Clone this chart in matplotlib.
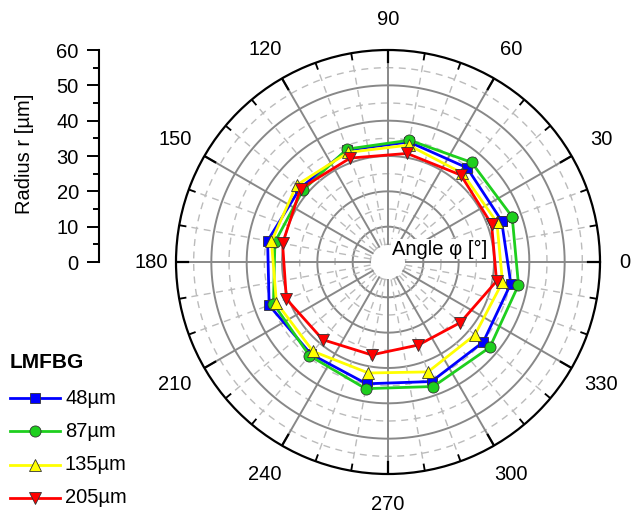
import numpy as np
import matplotlib.pyplot as plt
from matplotlib.lines import Line2D

plt.rcParams['font.family'] = ['Liberation Sans', 'DejaVu Sans']

angles_deg = [20, 50, 80, 110, 140, 170, 200, 230, 260, 290, 320, 350]
r_48 = [34.2, 34.8, 34.5, 33.7, 32.5, 34.6, 35.8, 34.0, 35.0, 36.0, 35.2, 35.3]
r_87 = [37.4, 36.8, 35.0, 34.0, 31.5, 32.5, 34.5, 34.6, 36.4, 37.5, 37.6, 37.5]
r_135 = [32.8, 32.8, 33.6, 33.0, 33.8, 33.5, 33.6, 33.0, 31.9, 33.1, 32.1, 32.9]
r_205 = [31.2, 32.1, 31.2, 31.3, 32.3, 30.3, 30.6, 28.7, 26.7, 25.0, 26.7, 31.2]
series_labels = ['48µm', '87µm', '135µm', '205µm']
angle_ticks = list(range(0, 360, 30))
radius_ticks = [0, 10, 20, 30, 40, 50, 60]

colors = ['#0000ff', '#1ecf1e', '#ffff00', '#ff0000']
markers = ['s', 'o', '^', 'v']
msizes = [7.5, 8, 9, 9]
FS = 14.5

W, H = 638, 514
fig = plt.figure(figsize=(W / 100, H / 100), dpi=100)

# polar panel
cx, cy, R = 388, 262, 212
ax = fig.add_axes([(cx - R) / W, 1 - (cy + R) / H, 2 * R / W, 2 * R / H],
                  projection='polar')
ax.set_ylim(0, 60)
ax.grid(False)
ax.set_xticks([])
ax.set_yticks([])
ax.spines['polar'].set_linewidth(1.6)
ax.spines['polar'].set_color('black')

th = np.linspace(0, 2 * np.pi, 400)
for rr in range(10, 60, 10):
    ax.plot(th, np.full_like(th, rr), color='#888888', lw=1.4, zorder=1)
for rr in range(5, 60, 10):
    ax.plot(th, np.full_like(th, rr), color='#bbbbbb', lw=1.0,
            ls=(0, (5, 4)), zorder=1)
for a in range(0, 360, 10):
    t = np.deg2rad(a)
    if a % 30 == 0:
        ax.plot([t, t], [5, 60], color='#888888', lw=1.4, zorder=1)
        ax.plot([t, t], [56.5, 60], color='black', lw=1.6, zorder=3)
    else:
        ax.plot([t, t], [5, 60], color='#bbbbbb', lw=1.0,
                ls=(0, (5, 4)), zorder=1)
        ax.plot([t, t], [58.2, 60], color='black', lw=1.3, zorder=3)

for a in angle_ticks:
    t = np.deg2rad(a)
    rl = 67 + 3 * abs(np.sin(2 * t)) + (1.5 if a in (90, 270) else 0)
    ax.text(t, rl, str(a), ha='center', va='center', fontsize=FS,
            clip_on=False)

series = [r_48, r_87, r_135, r_205]
for vals, c, m, ms in zip(series, colors, markers, msizes):
    t = np.deg2rad(angles_deg + angles_deg[:1])
    r = vals + vals[:1]
    ax.plot(t, r, color=c, lw=2, marker=m, ms=ms, mfc=c, mec='#333333',
            mew=0.6, zorder=4, clip_on=False)

fig.text(392 / W, 1 - 249 / H, 'Angle φ [°]', fontsize=FS, ha='left',
         va='center', zorder=10,
         bbox=dict(facecolor='white', edgecolor='none', pad=0.5))

# radius scale on the left
lax = fig.add_axes([99 / W, 1 - 262 / H, 0.0001, 212 / H])
lax.set_ylim(0, 60)
for s in ['top', 'right', 'bottom']:
    lax.spines[s].set_visible(False)
lax.spines['left'].set_linewidth(1.5)
lax.patch.set_alpha(0)
lax.set_xticks([])
lax.set_yticks(radius_ticks)
lax.set_yticks(range(5, 60, 10), minor=True)
lax.tick_params(axis='y', which='major', direction='out', length=8.5,
                width=1.4, labelsize=FS, pad=6)
lax.tick_params(axis='y', which='minor', direction='out', length=4,
                width=1.4)
fig.text(25 / W, 1 - 154 / H, 'Radius r [µm]', rotation=90, fontsize=FS,
         ha='center', va='center')

# legend
fig.text(10 / W, 1 - 363 / H, 'LMFBG', fontsize=15, fontweight='bold',
         ha='left', va='center')
for i, (lab, c, m, ms) in enumerate(zip(series_labels, colors, markers, msizes)):
    y = 1 - (398 + 33.3 * i) / H
    fig.add_artist(Line2D([10 / W, 60 / W], [y, y], transform=fig.transFigure,
                          color=c, lw=2))
    fig.add_artist(Line2D([35 / W], [y], transform=fig.transFigure, marker=m,
                          ms=ms, mfc=c, mec='#333333', mew=0.6, ls='none'))
    fig.text(65 / W, y, lab, fontsize=FS, ha='left', va='center')

fig.savefig('out.png', dpi=100)
